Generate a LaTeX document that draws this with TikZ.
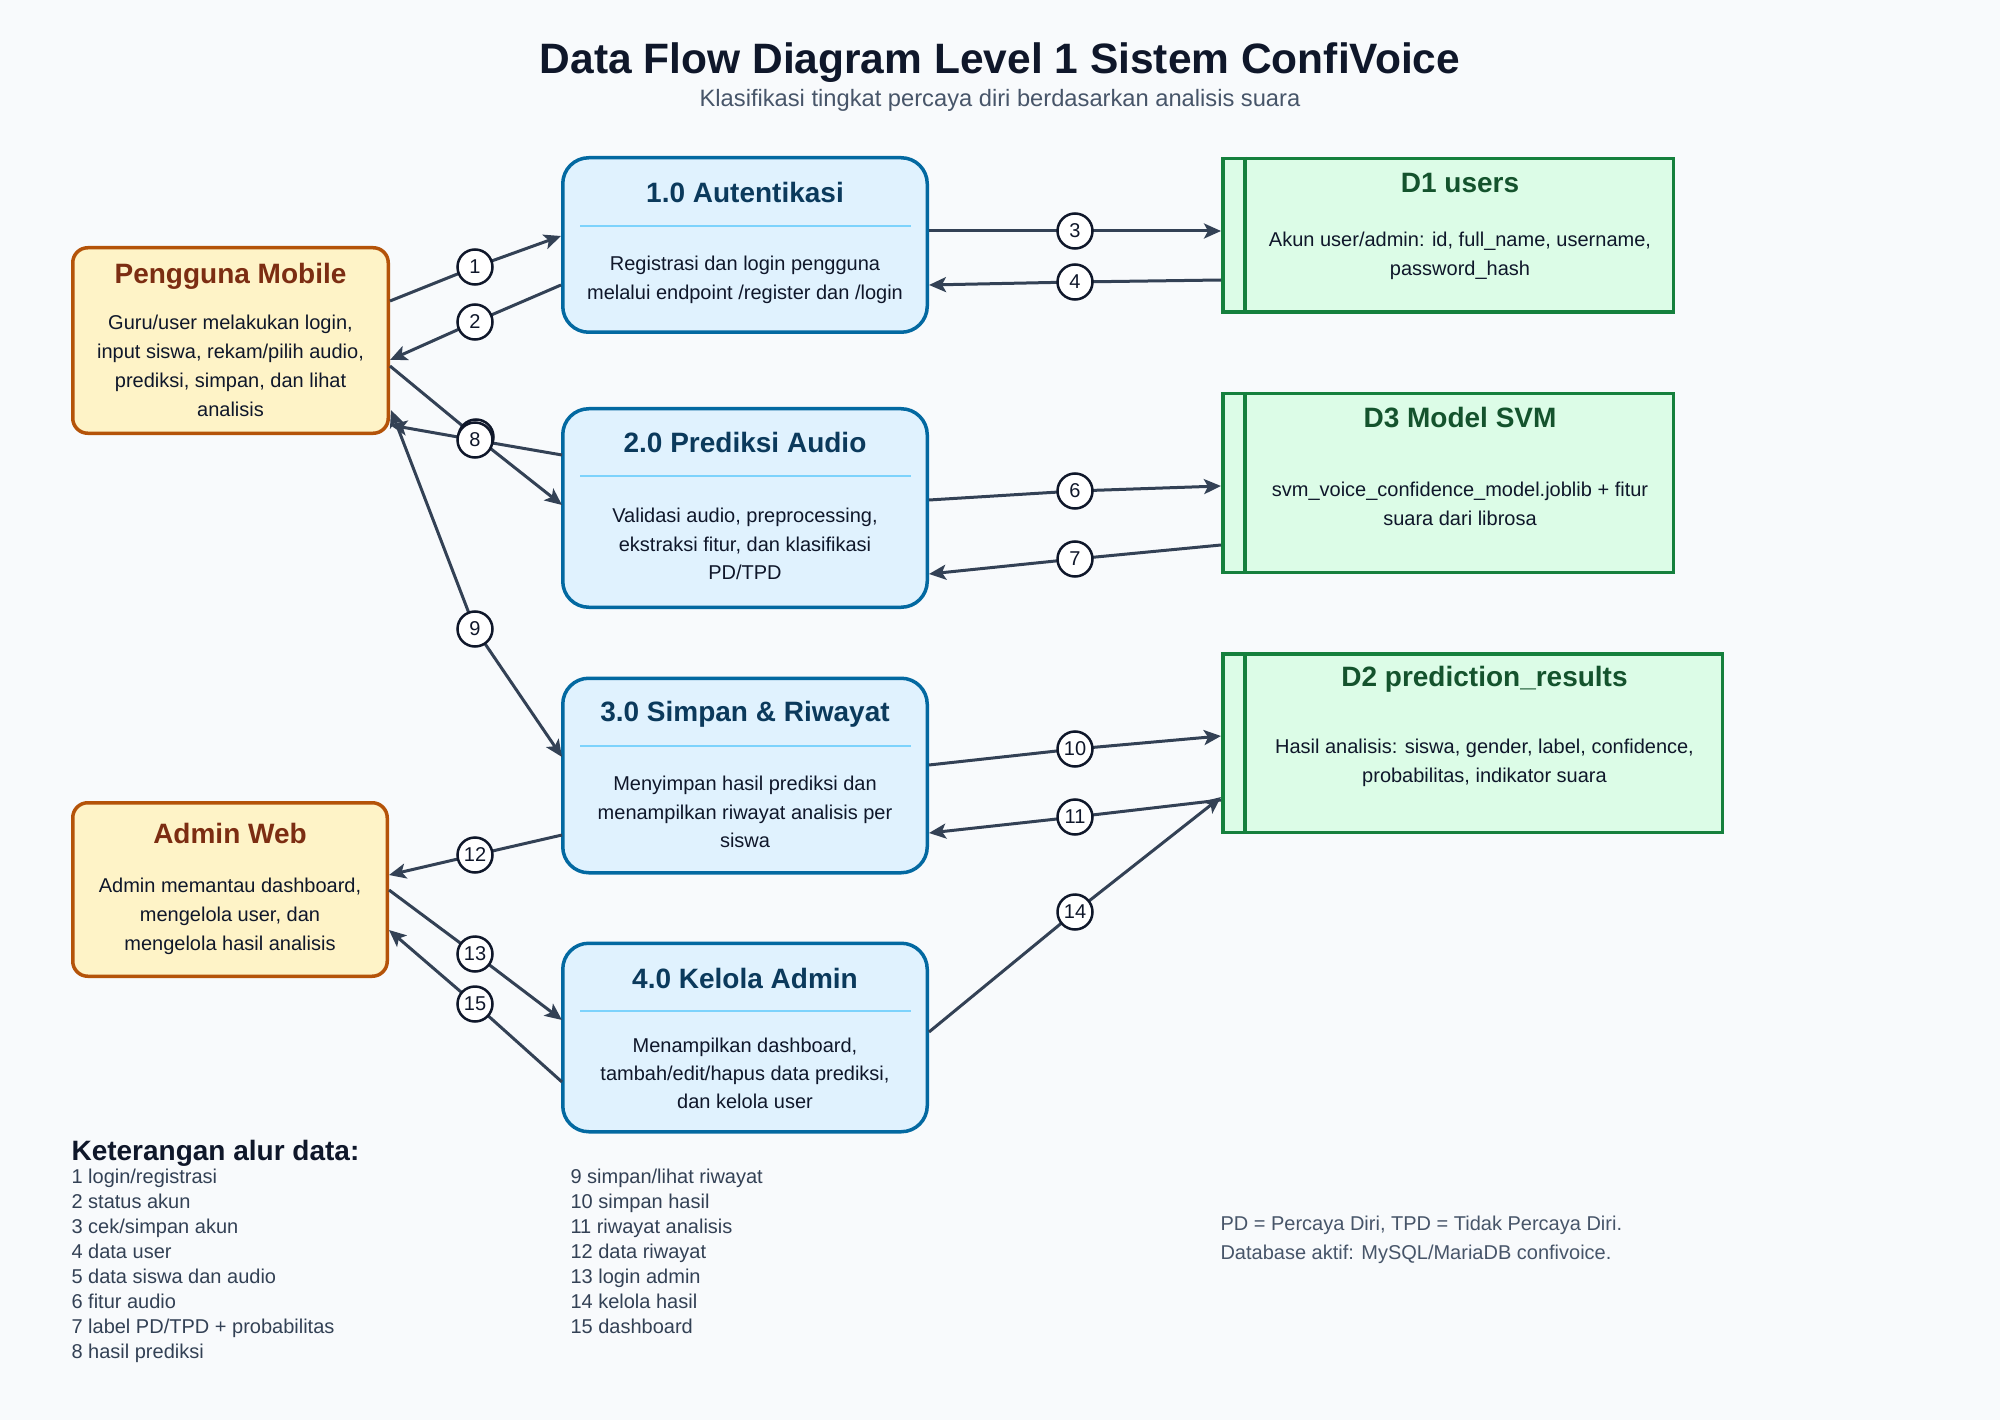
\documentclass[tikz,border=0pt]{standalone}
\usepackage{fontspec}
\setmainfont{Liberation Sans}
\usetikzlibrary{arrows.meta}
\definecolor{bgc}{HTML}{F8FAFC}
\definecolor{ink}{HTML}{0F172A}
\definecolor{subc}{HTML}{475569}
\definecolor{legc}{HTML}{334155}
\definecolor{arrc}{HTML}{334155}
\definecolor{extfill}{HTML}{FEF3C7}
\definecolor{extdraw}{HTML}{B45309}
\definecolor{exttitle}{HTML}{7C2D12}
\definecolor{procfill}{HTML}{E0F2FE}
\definecolor{procdraw}{HTML}{0369A1}
\definecolor{proctitle}{HTML}{0B3A5C}
\definecolor{procdiv}{HTML}{7DD3FC}
\definecolor{stfill}{HTML}{DCFCE7}
\definecolor{stdraw}{HTML}{15803D}
\definecolor{sttitle}{HTML}{14532D}
\begin{document}
\begin{tikzpicture}[x=1pt,y=-1pt,
  extbox/.style={draw=extdraw,fill=extfill,line width=3.5pt,rounded corners=15pt,inner sep=0pt},
  procbox/.style={draw=procdraw,fill=procfill,line width=3.5pt,rounded corners=26pt,inner sep=0pt},
  storebox/.style={draw=stdraw,fill=stfill,line width=3.5pt,inner sep=0pt},
  storeline/.style={draw=stdraw,line width=3.5pt},
  divider/.style={draw=procdiv,line width=2pt},
  ttl/.style={anchor=base,font=\fontsize{28}{34}\selectfont\bfseries},
  body/.style={anchor=base,text=ink,font=\fontsize{20}{24}\selectfont},
  leg/.style={anchor=base west,text=legc,font=\fontsize{20}{24}\selectfont},
  note/.style={anchor=base west,text=subc,font=\fontsize{20}{24}\selectfont},
  flow/.style={draw=arrc,line width=3pt,line join=round,-{Stealth[length=17pt,width=15pt,inset=4pt]}},
  flowboth/.style={draw=arrc,line width=3pt,line join=round,{Stealth[length=17pt,width=15pt,inset=4pt]}-{Stealth[length=17pt,width=15pt,inset=4pt]}},
  lab/.style={circle,draw=ink,line width=2.5pt,fill=white,minimum size=35pt,inner sep=0pt,text=ink,font=\fontsize{20}{24}\selectfont}
]
\useasboundingbox (0,0) rectangle (2000,1420);
\fill[bgc] (0,0) rectangle (2000,1420);

% Title
\node[anchor=base,text=ink,font=\fontsize{42.5}{48}\selectfont\bfseries] (title) at (1000,74) {Data Flow Diagram Level 1 Sistem ConfiVoice};
\node[anchor=base,text=subc,font=\fontsize{23.7}{28}\selectfont] (subtitle) at (1000,107) {Klasifikasi tingkat percaya diri berdasarkan analisis suara};

% External entities
\node[extbox,minimum width=315.5pt,minimum height=185.5pt] (pm) at (230.5,340.5) {};
\node[extbox,minimum width=314.5pt,minimum height=173.5pt] (aw) at (230,889.5) {};

% Processes
\node[procbox,minimum width=364.5pt,minimum height=174.5pt] (p1) at (745,245) {};
\node[procbox,minimum width=364.5pt,minimum height=198.5pt] (p2) at (745,508) {};
\node[procbox,minimum width=364.5pt,minimum height=194.5pt] (p3) at (745,775.5) {};
\node[procbox,minimum width=364.5pt,minimum height=188.5pt] (p4) at (745,1037.5) {};

% Data stores
\node[storebox,minimum width=450.5pt,minimum height=153.5pt] (d1) at (1448,235.5) {};
\node[storebox,minimum width=450.5pt,minimum height=178.5pt] (d3) at (1448,483) {};
\node[storebox,minimum width=499.5pt,minimum height=178.5pt] (d2) at (1472.5,743) {};
\draw[storeline] ([xshift=24pt]d1.north west) -- ([xshift=24pt]d1.south west);
\draw[storeline] ([xshift=24pt]d3.north west) -- ([xshift=24pt]d3.south west);
\draw[storeline] ([xshift=24pt]d2.north west) -- ([xshift=24pt]d2.south west);

% Dividers in processes
\draw[divider] (580,226) -- (911,226);
\draw[divider] (580,476) -- (911,476);
\draw[divider] (580,746) -- (911,746);
\draw[divider] (580,1011) -- (911,1011);

% Texts: external entities
\node[ttl,text=exttitle] (pmt) at (230.5,284) {Pengguna Mobile};
\node[body] (pmb1) at (230.5,330) {Guru/user melakukan login,};
\node[body] (pmb2) at (230.5,359) {input siswa, rekam/pilih audio,};
\node[body] (pmb3) at (230.5,388) {prediksi, simpan, dan lihat};
\node[body] (pmb4) at (230.5,417) {analisis};

\node[ttl,text=exttitle] (awt) at (230,843) {Admin Web};
\node[body] (awb1) at (230,892) {Admin memantau dashboard,};
\node[body] (awb2) at (230,921) {mengelola user, dan};
\node[body] (awb3) at (230,950) {mengelola hasil analisis};

% Texts: processes
\node[ttl,text=proctitle] (p1t) at (745,203) {1.0 Autentikasi};
\node[body] (p1b1) at (745,271) {Registrasi dan login pengguna};
\node[body] (p1b2) at (745,300) {melalui endpoint /register dan /login};

\node[ttl,text=proctitle] (p2t) at (745,453) {2.0 Prediksi Audio};
\node[body] (p2b1) at (745,522) {Validasi audio, preprocessing,};
\node[body] (p2b2) at (745,551) {ekstraksi fitur, dan klasifikasi};
\node[body] (p2b3) at (745,579) {PD/TPD};

\node[ttl,text=proctitle] (p3t) at (745,721) {3.0 Simpan \& Riwayat};
\node[body] (p3b1) at (745,790) {Menyimpan hasil prediksi dan};
\node[body] (p3b2) at (745,819) {menampilkan riwayat analisis per};
\node[body] (p3b3) at (745,847) {siswa};

\node[ttl,text=proctitle] (p4t) at (745,988) {4.0 Kelola Admin};
\node[body] (p4b1) at (745,1052) {Menampilkan dashboard,};
\node[body] (p4b2) at (745,1080) {tambah/edit/hapus data prediksi,};
\node[body] (p4b3) at (745,1108) {dan kelola user};

% Texts: stores
\node[ttl,text=sttitle] (d1t) at (1460,193) {D1 users};
\node[body] (d1b1) at (1460,247) {Akun user/admin: id, full\_name, username,};
\node[body] (d1b2) at (1460,276) {password\_hash};

\node[ttl,text=sttitle] (d3t) at (1460,428) {D3 Model SVM};
\node[body] (d3b1) at (1460,496) {svm\_voice\_confidence\_model.joblib + fitur};
\node[body] (d3b2) at (1460,525) {suara dari librosa};

\node[ttl,text=sttitle] (d2t) at (1484.5,686) {D2 prediction\_results};
\node[body] (d2b1) at (1484.5,753) {Hasil analisis: siswa, gender, label, confidence,};
\node[body] (d2b2) at (1484.5,782) {probabilitas, indikator suara};

% Connector end points
\coordinate (a1s) at (390,301);  \coordinate (a1e) at (561,236);
\coordinate (a2s) at (561,285);  \coordinate (a2e) at (390,360);
\coordinate (a3s) at (929,231);  \coordinate (a3e) at (1221,231);
\coordinate (a4s) at (1221,280); \coordinate (a4e) at (929,285);
\coordinate (a5s) at (390,366);  \coordinate (a5e) at (562,505);
\coordinate (a6s) at (929,500);  \coordinate (a6e) at (1221,486);
\coordinate (a7s) at (1221,545); \coordinate (a7e) at (929,574);
\coordinate (a8s) at (562,455);  \coordinate (a8e) at (390,425);
\coordinate (a9s) at (391,410);  \coordinate (a9e) at (562,757);
\coordinate (a10s) at (929,765); \coordinate (a10e) at (1221,736);
\coordinate (a11s) at (1221,800);\coordinate (a11e) at (929,833);
\coordinate (a12s) at (562,835); \coordinate (a12e) at (389,875);
\coordinate (a13s) at (389,890); \coordinate (a13e) at (562,1020);
\coordinate (a14s) at (929,1032);\coordinate (a14e) at (1221,797);
\coordinate (a15s) at (562,1082);\coordinate (a15e) at (389,930);

% Label positions
\coordinate (c1) at (475,267);
\coordinate (c2) at (475,322);
\coordinate (c3) at (1075,231);
\coordinate (c4) at (1075,282);
\coordinate (c5) at (476,437);
\coordinate (c6) at (1075,491);
\coordinate (c7) at (1075,559);
\coordinate (c8) at (475,440);
\coordinate (c9) at (475,629);
\coordinate (c10) at (1075,749);
\coordinate (c11) at (1075,817);
\coordinate (c12) at (475,855);
\coordinate (c13) at (475,954);
\coordinate (c14) at (1075,912);
\coordinate (c15) at (475,1004);

% Connectors
\draw[flow] (a1s) -- (c1) -- (a1e);
\draw[flow] (a2s) -- (c2) -- (a2e);
\draw[flow] (a3s) -- (c3) -- (a3e);
\draw[flow] (a4s) -- (c4) -- (a4e);
\draw[flow] (a5s) -- (c5) -- (a5e);
\draw[flow] (a6s) -- (c6) -- (a6e);
\draw[flow] (a7s) -- (c7) -- (a7e);
\draw[flow] (a8s) -- (c8) -- (a8e);
\draw[flowboth] (a9s) -- (c9) -- (a9e);
\draw[flow] (a10s) -- (c10) -- (a10e);
\draw[flow] (a11s) -- (c11) -- (a11e);
\draw[flow] (a12s) -- (c12) -- (a12e);
\draw[flow] (a13s) -- (c13) -- (a13e);
\draw[flow] (a14s) -- (c14) -- (a14e);
\draw[flow] (a15s) -- (c15) -- (a15e);

% Labels
\node[lab] (l1) at (c1) {1};
\node[lab] (l2) at (c2) {2};
\node[lab] (l3) at (c3) {3};
\node[lab] (l4) at (c4) {4};
\node[lab] (l5) at (c5) {5};
\node[lab] (l6) at (c6) {6};
\node[lab] (l7) at (c7) {7};
\node[lab] (l8) at (c8) {8};
\node[lab] (l9) at (c9) {9};
\node[lab] (l10) at (c10) {10};
\node[lab] (l11) at (c11) {11};
\node[lab] (l12) at (c12) {12};
\node[lab] (l13) at (c13) {13};
\node[lab] (l14) at (c14) {14};
\node[lab] (l15) at (c15) {15};

% Legend
\node[anchor=base west,text=ink,font=\fontsize{28}{32}\selectfont\bfseries] (legt) at (68,1160) {Keterangan alur data:};
\node[leg] (g1) at (68,1183) {1 login/registrasi};
\node[leg] (g2) at (68,1208) {2 status akun};
\node[leg] (g3) at (68,1233) {3 cek/simpan akun};
\node[leg] (g4) at (68,1258) {4 data user};
\node[leg] (g5) at (68,1283) {5 data siswa dan audio};
\node[leg] (g6) at (68,1308) {6 fitur audio};
\node[leg] (g7) at (68,1333) {7 label PD/TPD + probabilitas};
\node[leg] (g8) at (68,1358) {8 hasil prediksi};
\node[leg] (g9) at (567,1183) {9 simpan/lihat riwayat};
\node[leg] (g10) at (567,1208) {10 simpan hasil};
\node[leg] (g11) at (567,1233) {11 riwayat analisis};
\node[leg] (g12) at (567,1258) {12 data riwayat};
\node[leg] (g13) at (567,1283) {13 login admin};
\node[leg] (g14) at (567,1308) {14 kelola hasil};
\node[leg] (g15) at (567,1333) {15 dashboard};

\node[note] (n1) at (1217,1230) {PD = Percaya Diri, TPD = Tidak Percaya Diri.};
\node[note] (n2) at (1217,1259) {Database aktif: MySQL/MariaDB confivoice.};
\end{tikzpicture}
\end{document}
